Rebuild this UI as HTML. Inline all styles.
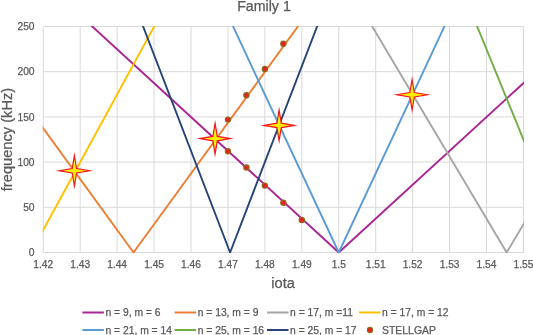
<!DOCTYPE html>
<html><head><meta charset="utf-8"><title>Family 1</title>
<style>html,body{margin:0;padding:0;background:#fff;}svg{display:block;font-family:"Liberation Sans",sans-serif;}</style></head><body>
<svg width="533" height="335" viewBox="0 0 533 335">
<rect width="533" height="335" fill="#fff"/>
<path d="M43.25 26.5V252.5M80.19 26.5V252.5M117.13 26.5V252.5M154.07 26.5V252.5M191.00 26.5V252.5M227.94 26.5V252.5M264.88 26.5V252.5M301.82 26.5V252.5M338.76 26.5V252.5M375.70 26.5V252.5M412.63 26.5V252.5M449.57 26.5V252.5M486.51 26.5V252.5M523.45 26.5V252.5M43.25 252.50H523.45M43.25 207.30H523.45M43.25 162.10H523.45M43.25 116.90H523.45M43.25 71.70H523.45M43.25 26.50H523.45" stroke="#D9D9D9" stroke-width="1" fill="none"/>
<defs><clipPath id="c"><rect x="42.75" y="26.0" width="481.20" height="227.3"/></clipPath></defs>
<g clip-path="url(#c)" fill="none" stroke-width="1.9" stroke-linejoin="round">
<path d="M-30.63 -86.23 L338.76 252.50 L597.33 15.39" stroke="#AA2493"/>
<path d="M-30.63 26.68 L133.54 252.50 L597.33 -385.44" stroke="#ED7D31"/>
<path d="M-30.63 -650.78 L506.66 252.50 L597.33 100.07" stroke="#A5A5A5"/>
<path d="M-30.63 139.59 L30.94 252.50 L597.33 -786.27" stroke="#FFC000"/>
<path d="M-30.63 -537.87 L338.76 252.50 L597.33 -300.76" stroke="#5B9BD5"/>
<path d="M-30.63 -1215.32 L569.62 252.50 L597.33 184.75" stroke="#70AD47"/>
<path d="M-30.63 -424.96 L230.12 252.50 L597.33 -701.59" stroke="#264478"/>
</g>
<circle cx="227.94" cy="119.61" r="2.6" fill="#EE1C25" stroke="#8E6B1A" stroke-width="1.2"/>
<circle cx="246.41" cy="95.20" r="2.6" fill="#EE1C25" stroke="#8E6B1A" stroke-width="1.2"/>
<circle cx="264.88" cy="68.99" r="2.6" fill="#EE1C25" stroke="#8E6B1A" stroke-width="1.2"/>
<circle cx="283.35" cy="43.68" r="2.6" fill="#EE1C25" stroke="#8E6B1A" stroke-width="1.2"/>
<circle cx="227.94" cy="151.25" r="2.6" fill="#EE1C25" stroke="#8E6B1A" stroke-width="1.2"/>
<circle cx="246.41" cy="167.52" r="2.6" fill="#EE1C25" stroke="#8E6B1A" stroke-width="1.2"/>
<circle cx="264.88" cy="185.60" r="2.6" fill="#EE1C25" stroke="#8E6B1A" stroke-width="1.2"/>
<circle cx="283.35" cy="202.78" r="2.6" fill="#EE1C25" stroke="#8E6B1A" stroke-width="1.2"/>
<circle cx="301.82" cy="219.96" r="2.6" fill="#EE1C25" stroke="#8E6B1A" stroke-width="1.2"/>
<polygon points="74.39,155.58 76.59,168.58 89.59,170.78 76.59,172.98 74.39,185.98 72.19,172.98 59.19,170.78 72.19,168.58" fill="#FFF200" stroke="#F2141E" stroke-width="1.2" stroke-linejoin="miter" stroke-miterlimit="20"/>
<polygon points="215.09,123.40 217.29,136.40 230.29,138.60 217.29,140.80 215.09,153.80 212.89,140.80 199.89,138.60 212.89,136.40" fill="#FFF200" stroke="#F2141E" stroke-width="1.2" stroke-linejoin="miter" stroke-miterlimit="20"/>
<polygon points="279.10,110.20 281.30,123.20 294.30,125.40 281.30,127.60 279.10,140.60 276.90,127.60 263.90,125.40 276.90,123.20" fill="#FFF200" stroke="#F2141E" stroke-width="1.2" stroke-linejoin="miter" stroke-miterlimit="20"/>
<polygon points="412.08,79.55 414.28,92.55 427.28,94.75 414.28,96.95 412.08,109.95 409.88,96.95 396.88,94.75 409.88,92.55" fill="#FFF200" stroke="#F2141E" stroke-width="1.2" stroke-linejoin="miter" stroke-miterlimit="20"/>
<g fill="#595959" stroke="#595959" stroke-width="0.25">
<text x="264" y="10.6" font-size="14.2" text-anchor="middle">Family 1</text>
<text x="34.6" y="256.10" font-size="10.3" text-anchor="end">0</text>
<text x="34.6" y="210.90" font-size="10.3" text-anchor="end">50</text>
<text x="34.6" y="165.70" font-size="10.3" text-anchor="end">100</text>
<text x="34.6" y="120.50" font-size="10.3" text-anchor="end">150</text>
<text x="34.6" y="75.30" font-size="10.3" text-anchor="end">200</text>
<text x="34.6" y="30.10" font-size="10.3" text-anchor="end">250</text>
<text x="43.25" y="268.3" font-size="10.2" text-anchor="middle">1.42</text>
<text x="80.19" y="268.3" font-size="10.2" text-anchor="middle">1.43</text>
<text x="117.13" y="268.3" font-size="10.2" text-anchor="middle">1.44</text>
<text x="154.07" y="268.3" font-size="10.2" text-anchor="middle">1.45</text>
<text x="191.00" y="268.3" font-size="10.2" text-anchor="middle">1.46</text>
<text x="227.94" y="268.3" font-size="10.2" text-anchor="middle">1.47</text>
<text x="264.88" y="268.3" font-size="10.2" text-anchor="middle">1.48</text>
<text x="301.82" y="268.3" font-size="10.2" text-anchor="middle">1.49</text>
<text x="338.76" y="268.3" font-size="10.2" text-anchor="middle">1.5</text>
<text x="375.70" y="268.3" font-size="10.2" text-anchor="middle">1.51</text>
<text x="412.63" y="268.3" font-size="10.2" text-anchor="middle">1.52</text>
<text x="449.57" y="268.3" font-size="10.2" text-anchor="middle">1.53</text>
<text x="486.51" y="268.3" font-size="10.2" text-anchor="middle">1.54</text>
<text x="523.45" y="268.3" font-size="10.2" text-anchor="middle">1.55</text>
<text x="283.1" y="287.6" font-size="14.67" text-anchor="middle">iota</text>
<text transform="translate(11.8,139.5) rotate(-90)" font-size="14.67" text-anchor="middle">frequency (kHz)</text>
<path d="M82.4 312.5h21.5" stroke="#AA2493" stroke-width="2"/>
<text x="105.5" y="316" font-size="10.3">n = 9, m = 6</text>
<path d="M174.6 312.5h21.5" stroke="#ED7D31" stroke-width="2"/>
<text x="197.7" y="316" font-size="10.3">n = 13, m = 9</text>
<path d="M267.0 312.5h21.5" stroke="#A5A5A5" stroke-width="2"/>
<text x="290.1" y="316" font-size="10.3">n = 17, m =11</text>
<path d="M359.0 312.5h21.5" stroke="#FFC000" stroke-width="2"/>
<text x="382.1" y="316" font-size="10.3">n = 17, m = 12</text>
<path d="M82.4 330.0h21.5" stroke="#5B9BD5" stroke-width="2"/>
<text x="105.5" y="333.5" font-size="10.3">n = 21, m = 14</text>
<path d="M174.6 330.0h21.5" stroke="#70AD47" stroke-width="2"/>
<text x="197.7" y="333.5" font-size="10.3">n = 25, m = 16</text>
<path d="M267.0 330.0h21.5" stroke="#264478" stroke-width="2"/>
<text x="290.1" y="333.5" font-size="10.3">n = 25, m = 17</text>
<circle cx="370" cy="330.0" r="2.6" fill="#EE1C25" stroke="#8E6B1A" stroke-width="1.1"/>
<text x="382" y="333.5" font-size="10.45">STELLGAP</text>
</g></svg></body></html>
